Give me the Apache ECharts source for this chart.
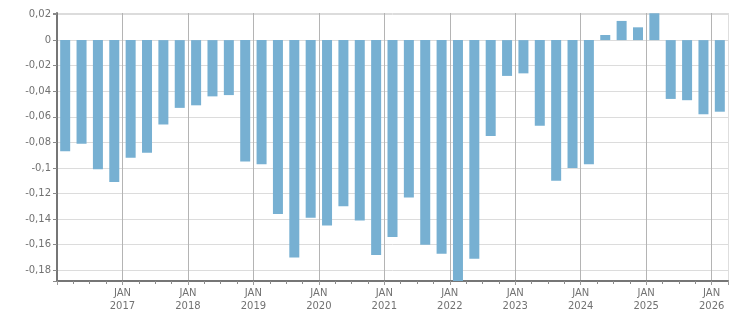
<!DOCTYPE html>
<html><head><meta charset="utf-8">
<script src="https://cdn.jsdelivr.net/npm/echarts@6/dist/echarts.min.js"></script>
<style>html,body{margin:0;padding:0;background:#fff}#c{width:751px;height:313px}</style>
</head><body><div id="c"></div>
<script>
const quarters = [
  '2016Q1','2016Q2','2016Q3','2016Q4',
  '2017Q1','2017Q2','2017Q3','2017Q4',
  '2018Q1','2018Q2','2018Q3','2018Q4',
  '2019Q1','2019Q2','2019Q3','2019Q4',
  '2020Q1','2020Q2','2020Q3','2020Q4',
  '2021Q1','2021Q2','2021Q3','2021Q4',
  '2022Q1','2022Q2','2022Q3','2022Q4',
  '2023Q1','2023Q2','2023Q3','2023Q4',
  '2024Q1','2024Q2','2024Q3','2024Q4',
  '2025Q1','2025Q2','2025Q3','2025Q4',
  '2026Q1'
];
const values = [
  -0.087, -0.081, -0.101, -0.111,
  -0.092, -0.088, -0.066, -0.053,
  -0.051, -0.044, -0.043, -0.095,
  -0.097, -0.136, -0.170, -0.139,
  -0.145, -0.130, -0.141, -0.168,
  -0.154, -0.123, -0.160, -0.167,
  -0.192, -0.171, -0.075, -0.028,
  -0.026, -0.067, -0.110, -0.100,
  -0.097, 0.004, 0.015, 0.010,
  0.021, -0.046, -0.047, -0.058,
  -0.056
];
const yearLabels = ['2016','2017','2018','2019','2020','2021','2022','2023','2024','2025','2026'];
const monthLabel = 'JAN';

const startYear = 2016;
function qIndex(q){ return (parseInt(q.slice(0,4)) - startYear) * 4 + (parseInt(q.slice(5)) - 1) + 0.5; }
const seriesData = quarters.map((q,i)=>[qIndex(q), values[i]]);

const chart = echarts.init(document.getElementById('c'), null, {renderer:'canvas'});
const font = 'DejaVu Sans';
const splitColors = [];
for (let i=0;i<11;i++) splitColors.push('#b4b4b4');
splitColors.push('#dedede');

chart.setOption({
  animation:false,
  grid:{left:57, right:23, top:13, bottom:32, containLabel:false},
  xAxis:{
    type:'value', min:0, max:41, interval:4,
    axisLine:{show:true, onZero:false, lineStyle:{color:'#767676', width:2}},
    axisTick:{show:true, length:4, lineStyle:{color:'#9a9a9a'}},
    minorTick:{show:true, splitNumber:4, length:3, lineStyle:{color:'#8a8a8a'}},
    splitLine:{show:true, lineStyle:{color:splitColors, width:1}},
    axisLabel:{
      margin:6, color:'#727272', fontFamily:font, fontSize:10, lineHeight:13,
      formatter:function(v){
        const r = Math.round(v);
        if (Math.abs(v-r)>1e-6 || r%4!==0 || r===0) return '';
        const y = yearLabels[r/4];
        return y ? monthLabel + '\n' + y : '';
      }
    }
  },
  yAxis:{
    type:'value', min:-0.1884, max:0.0212, splitNumber:10, minInterval:0.02, maxInterval:0.02,
    axisLine:{show:true, onZero:false, lineStyle:{color:'#767676', width:2}},
    axisTick:{show:true, length:4, lineStyle:{color:'#8a8a8a'}},
    splitLine:{show:true, lineStyle:{color:'#dcdcdc', width:1}},
    axisLabel:{
      margin:6, color:'#727272', fontFamily:font, fontSize:10,
      formatter:function(v){
        const k = v/0.02;
        if (Math.abs(k-Math.round(k))>1e-6) return '';
        return String(+v.toFixed(2)).replace('.', ',');
      }
    }
  },
  series:[{
    type:'bar', data:seriesData, barWidth:10, clip:true,
    itemStyle:{color:'#77b0d2'}
  }]
});
</script></body></html>
